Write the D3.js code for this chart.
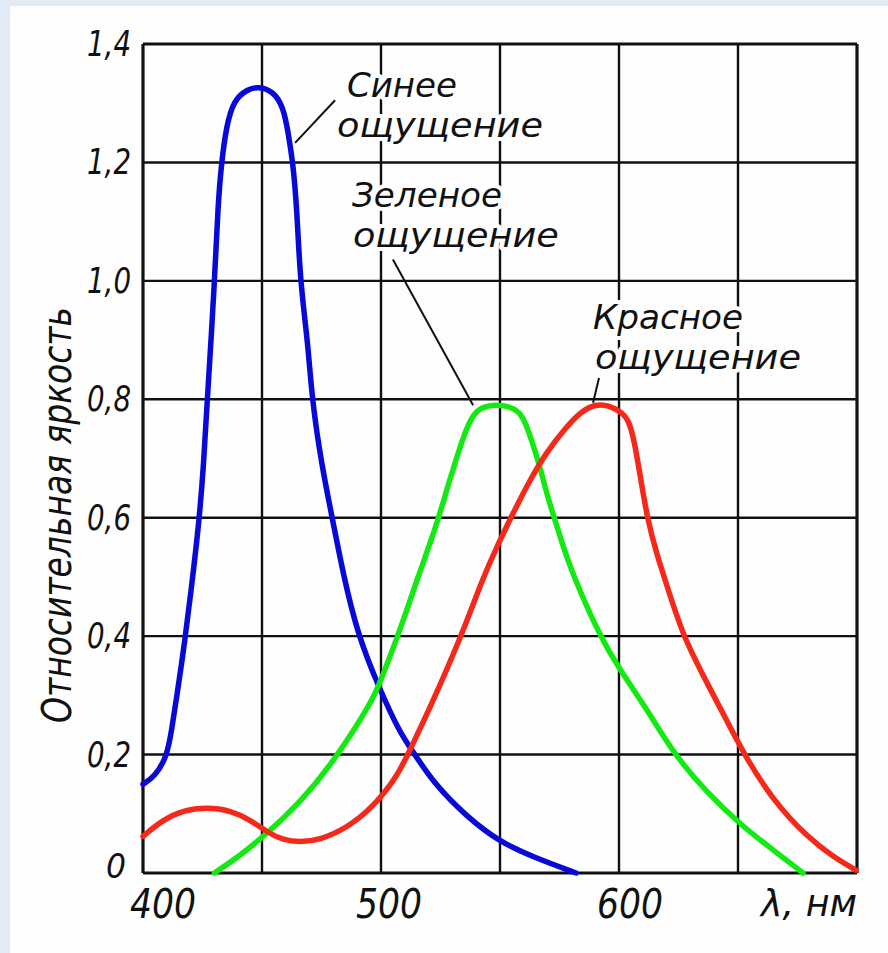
<!DOCTYPE html>
<html><head><meta charset="utf-8">
<script src="https://cdn.jsdelivr.net/npm/d3@7"></script>
<style>html,body{margin:0;padding:0;background:#fff}</style>
</head><body>
<script>
// ---------- data ----------
const blueNm  = [400,405,410,412,415,417.5,420,423.5,425.5,427,430,431.5,433,435,438,444,448.5,454.5,459,461,463,464.7,466,469.3,471,475,480,484,490,499,508,513,522,536,550,564,582];
const blueVal = [0.15,0.163,0.196,0.24,0.32,0.39,0.47,0.59,0.69,0.80,0.99,1.13,1.20,1.26,1.305,1.324,1.328,1.321,1.294,1.25,1.20,1.12,1.00,0.895,0.80,0.69,0.59,0.507,0.405,0.314,0.236,0.208,0.152,0.095,0.052,0.027,0.0];

const greenNm  = [430,441,452.5,467,481.5,496.6,500,508,515.5,522.7,527.6,533.2,536.7,540.5,548,556,559.8,563.3,566.8,569.6,573.1,576.6,580,592,600.4,612,622.7,637,652,666.4,677.3];
const greenVal = [0.0,0.03,0.068,0.123,0.196,0.292,0.326,0.41,0.50,0.579,0.647,0.72,0.759,0.785,0.792,0.786,0.771,0.731,0.686,0.641,0.596,0.551,0.51,0.399,0.343,0.275,0.203,0.135,0.078,0.034,0.0];

const redNm  = [400,408.4,416.8,427,436.6,445,452.5,458.8,466,474.4,485.7,496.6,506.7,512.2,520.6,533.2,543,548.7,555.5,562.6,569.6,578,584,590,596,601.5,604,606.4,609.2,612,616.2,619,626.9,637,648,654,664.7,679,690,699.5];
const redVal = [0.062,0.09,0.106,0.111,0.106,0.09,0.068,0.056,0.052,0.056,0.076,0.111,0.162,0.208,0.279,0.394,0.50,0.551,0.608,0.664,0.711,0.754,0.779,0.792,0.79,0.777,0.765,0.731,0.664,0.596,0.534,0.50,0.399,0.321,0.236,0.191,0.123,0.061,0.027,0.005];

const xGridValues = [400,450,500,550,600,650,700];
const yGridValues = [0,0.2,0.4,0.6,0.8,1.0,1.2,1.4];
const xTickValues = [400,500,600];
const xTickLabels = ["400","500","600"];
const yTickLabels = ["0","0,2","0,4","0,6","0,8","1,0","1,2","1,4"];
const xUnitLabel = "λ, нм";
const yTitle = "Относительная яркость";

const noteLines = [["Синее","ощущение"],["Зеленое","ощущение"],["Красное","ощущение"]];
// annotation anchors in data coordinates (nm, value)
const noteAnchors = [[[485.7,1.3106],[481.5,1.2431]],[[487.8,1.1248],[488.2,1.0572]],[[589.1,0.9188],[589.9,0.8512]]];
const leaderFrom = [[480.7,1.305],[505.0,1.036],[591.6,0.836]];
const leaderTo   = [[463.9,1.233],[538.7,0.790],[589.1,0.794]];

// ---------- layout ----------
const W = 888, H = 953;
const svg = d3.select("body").append("svg").attr("width", W).attr("height", H);
svg.append("rect").attr("width", W).attr("height", H).attr("fill", "#e2eaf5");
svg.append("rect").attr("x", 10).attr("y", 6).attr("width", W - 10).attr("height", H - 6).attr("fill", "#fdfefd");

const x = d3.scaleLinear().domain([400, 700]).range([143, 857]);
const y = d3.scaleLinear().domain([0, 1.4]).range([873, 44]);

const FONT = "'Liberation Sans Narrow','DejaVu Sans Condensed','Liberation Sans',sans-serif";
const ink = "#111";
const xLabelNudge = [20, 8, 11];

// gridlines
const g = svg.append("g");
g.selectAll("line.vx").data(xGridValues).join("line")
  .attr("x1", d => x(d)).attr("x2", d => x(d)).attr("y1", y(0)).attr("y2", y(1.4))
  .attr("stroke", ink).attr("stroke-width", d => (d === 400 || d === 700) ? 3.2 : 2.4);
g.selectAll("line.hy").data(yGridValues).join("line")
  .attr("x1", x(400)).attr("x2", x(700)).attr("y1", d => y(d)).attr("y2", d => y(d))
  .attr("stroke", ink).attr("stroke-width", d => (d === 0 || d === 1.4) ? 3.2 : 2.4);

function txt(parent, str, px, py, size, len, anchor) {
  const t = parent.append("text").attr("x", px).attr("y", py)
    .attr("font-family", FONT).attr("font-style", "italic").attr("font-size", size)
    .attr("fill", ink).attr("text-anchor", anchor || "start").text(str);
  if (len) t.attr("textLength", len).attr("lengthAdjust", "spacingAndGlyphs");
  return t;
}

// annotations with white halo that breaks the gridlines
const notes = svg.append("g");
noteLines.forEach((lines, i) => {
  lines.forEach((s, j) => {
    const [nm, v] = noteAnchors[i][j];
    const len = s === "ощущение" ? 206 : (s === "Синее" ? 110 : 150);
    txt(notes, s, x(nm), y(v), 33.5, len)
      .attr("stroke", "#fdfefd").attr("stroke-width", 8)
      .attr("paint-order", "stroke").attr("stroke-linejoin", "round");
  });
  notes.append("line")
    .attr("x1", x(leaderFrom[i][0])).attr("y1", y(leaderFrom[i][1]))
    .attr("x2", x(leaderTo[i][0])).attr("y2", y(leaderTo[i][1]))
    .attr("stroke", ink).attr("stroke-width", 2);
});

// curves
const line = d3.line().x(d => x(d[0])).y(d => y(d[1])).curve(d3.curveBasis);
const series = [
  {nm: blueNm, val: blueVal, color: "#0808d8"},
  {nm: greenNm, val: greenVal, color: "#12ea12"},
  {nm: redNm, val: redVal, color: "#f5281a"}
];
svg.append("g").selectAll("path").data(series).join("path")
  .attr("d", s => line(s.nm.map((n, i) => [n, s.val[i]])))
  .attr("fill", "none").attr("stroke", s => s.color).attr("stroke-width", 5.5)
  .attr("stroke-linejoin", "round").attr("stroke-linecap", "round");

// y tick labels
const yl = svg.append("g");
yGridValues.forEach((v, i) => {
  const s = yTickLabels[i];
  if (v === 0) txt(yl, s, 126, y(v) + 5, 34, 20, "end");
  else txt(yl, s, 131, y(v) + 12, 36, 44, "end");
});
// x tick labels
const xl = svg.append("g");
xTickValues.forEach((v, i) => {
  txt(xl, xTickLabels[i], x(v) + xLabelNudge[i], 918, 40, 66, "middle");
});
txt(xl, xUnitLabel, x(700), 916, 38, 96, "end");

// y title
svg.append("g").attr("transform", "translate(71,515) rotate(-90)")
  .call(gg => txt(gg, yTitle, 0, 0, 40, 416, "middle"));
</script>
</body></html>
